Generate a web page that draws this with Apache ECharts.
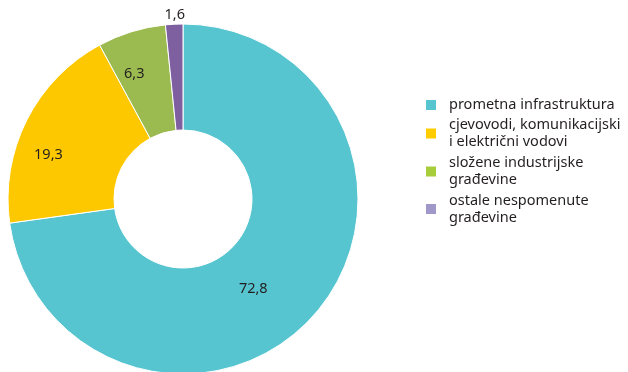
<!DOCTYPE html>
<html>
<head>
<meta charset="utf-8">
<script src="https://cdn.jsdelivr.net/npm/echarts@6/dist/echarts.min.js"></script>
<style>
  html, body { margin: 0; padding: 0; background: #fff; }
  #chart { width: 628px; height: 372px; }
</style>
</head>
<body>
<div id="chart"></div>
<script>
// podaci
const categories = [
  'prometna infrastruktura',
  'cjevovodi, komunikacijski\ni električni vodovi',
  'složene industrijske\ngrađevine',
  'ostale nespomenute\ngrađevine'
]
const values = [72.8, 19.3, 6.3, 1.6]

const sliceColors = ['#56c5d0', '#fec800', '#9bbb50', '#7e5fa0']
const legendColors = ['#56c5d0', '#ffcc00', '#a8cd3b', '#a098c8']
const labelOffsets = [[-24, 8], [-23, 12], [-12, -6], [-2, -59]]
const legendTops = [96.5, 108, 146, 183.5]

const font = 'Noto Sans'

const legends = categories.map((name, i) => {
  const multi = name.indexOf('\n') >= 0
  return {
    orient: 'vertical',
    left: 424,
    top: legendTops[i],
    padding: 0,
    itemWidth: 12,
    itemHeight: 12,
    icon: 'rect',
    selectedMode: false,
    data: [{
      name: name,
      itemStyle: { color: legendColors[i] },
      textStyle: {
        padding: multi ? [17, 0, 0, 7] : [0, 0, 0, 7]
      }
    }],
    textStyle: {
      fontFamily: font,
      fontSize: 14.5,
      lineHeight: 17,
      color: '#231f20'
    }
  }
})

const option = {
  animation: false,
  legend: legends,
  series: [
    {
      type: 'pie',
      center: [183, 199],
      radius: [69, 175],
      startAngle: 90,
      clockwise: true,
      itemStyle: {
        borderColor: '#fff',
        borderWidth: 1
      },
      label: {
        show: true,
        position: 'inside',
        fontFamily: font,
        fontSize: 14.5,
        color: '#231f20',
        formatter: p => p.value.toFixed(1).replace('.', ',')
      },
      labelLine: { show: false },
      emphasis: { disabled: true },
      data: values.map((v, i) => ({
        name: categories[i],
        value: v,
        itemStyle: { color: sliceColors[i] },
        label: { offset: labelOffsets[i] }
      }))
    }
  ]
}

const myChart = echarts.init(document.getElementById('chart'))
myChart.setOption(option)
</script>
</body>
</html>
